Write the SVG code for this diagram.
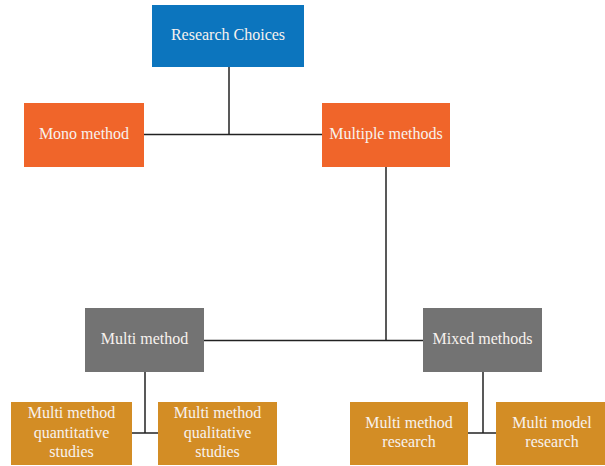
<svg xmlns="http://www.w3.org/2000/svg" width="605" height="466" viewBox="0 0 605 466">
<style>
.t{font-size:16px;fill:#f7f2ee;text-anchor:middle;font-family:"Liberation Serif","Times New Roman",serif}
.c line{stroke:#222;stroke-width:1.5}
.blue{fill:#0C75BE}.orange{fill:#F0652A}.gray{fill:#737373}.gold{fill:#D38D25}
</style>
<rect width="605" height="466" fill="#fff"/>
<g class="c" id="connectors">
<line x1="229" y1="67" x2="229" y2="134.5"/>
<line x1="144" y1="134.5" x2="322" y2="134.5"/>
<line x1="386" y1="167" x2="386" y2="340.5"/>
<line x1="204" y1="340.5" x2="423" y2="340.5"/>
<line x1="145" y1="372" x2="145" y2="433"/>
<line x1="132" y1="433" x2="158" y2="433"/>
<line x1="483" y1="372" x2="483" y2="433"/>
<line x1="468" y1="433" x2="496" y2="433"/>
</g>
<g class="t">
<g id="research-choices"><rect class="blue" x="152" y="5" width="152" height="62"/><text x="228" y="40">Research Choices</text></g>
<g id="mono-method"><rect class="orange" x="24" y="103" width="120" height="64"/><text x="84" y="139">Mono method</text></g>
<g id="multiple-methods"><rect class="orange" x="322" y="103" width="128" height="64"/><text x="386" y="139">Multiple methods</text></g>
<g id="multi-method"><rect class="gray" x="85" y="308" width="119" height="64"/><text x="144.5" y="344">Multi method</text></g>
<g id="mixed-methods"><rect class="gray" x="423" y="308" width="119" height="64"/><text x="482.5" y="344">Mixed methods</text></g>
<g id="mm-quant"><rect class="gold" x="11" y="402" width="121" height="63"/><text x="71.5" y="418">Multi method</text><text x="71.5" y="438">quantitative</text><text x="71.5" y="457">studies</text></g>
<g id="mm-qual"><rect class="gold" x="158" y="402" width="119" height="63"/><text x="217.5" y="418">Multi method</text><text x="217.5" y="438">qualitative</text><text x="217.5" y="457">studies</text></g>
<g id="mm-research"><rect class="gold" x="350" y="402" width="118" height="63"/><text x="409" y="428">Multi method</text><text x="409" y="447">research</text></g>
<g id="model-research"><rect class="gold" x="496" y="402" width="109" height="63"/><text x="552" y="428">Multi model</text><text x="552" y="447">research</text></g>
</g>
</svg>
